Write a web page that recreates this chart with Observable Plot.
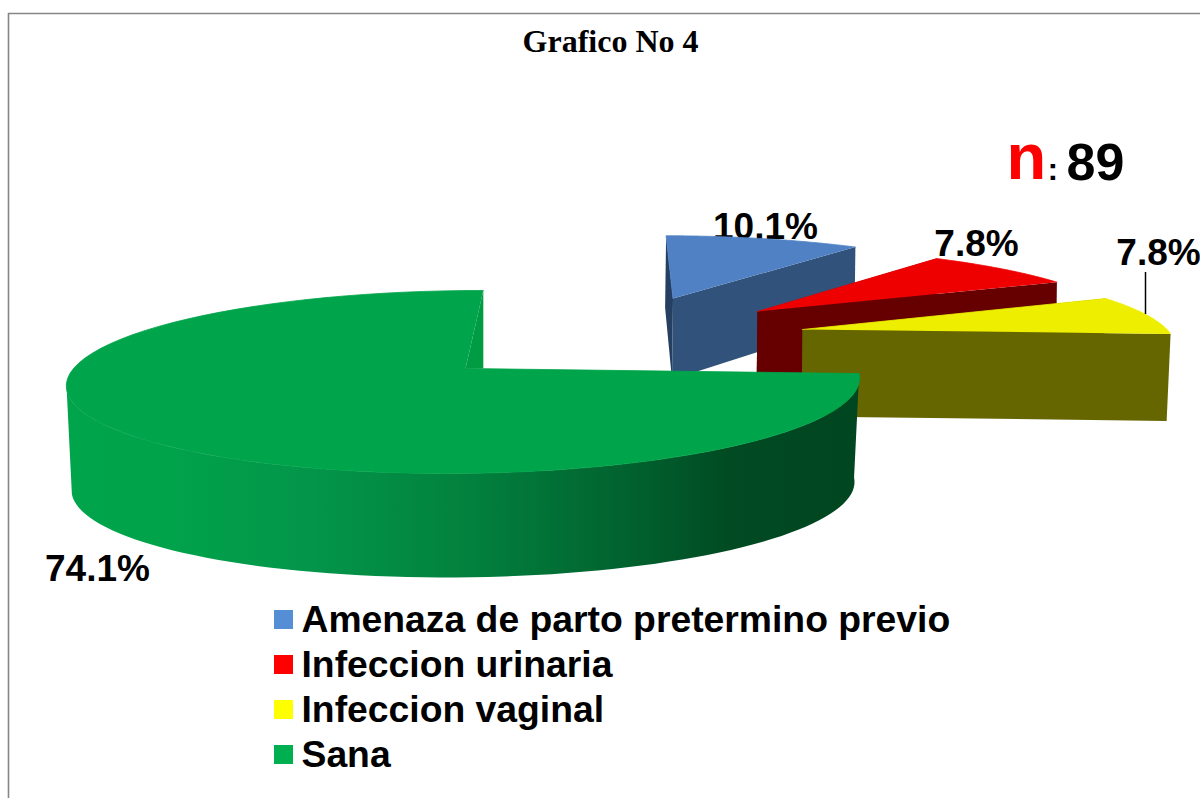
<!DOCTYPE html>
<html>
<head>
<meta charset="utf-8">
<script src="https://cdn.jsdelivr.net/npm/d3@7"></script>
<script src="https://cdn.jsdelivr.net/npm/@observablehq/plot@0.6"></script>
<style>html,body{margin:0;padding:0;background:#fff;overflow:hidden}svg{display:block}</style>
</head>
<body>
<div id="chart"></div>
<script>
// DATA
const categories = ["Amenaza de parto pretermino previo", "Infeccion urinaria", "Infeccion vaginal", "Sana"];
const percents = [10.1, 7.8, 7.8, 74.1];
const sampleSize = 89;
const chartTitle = "Grafico No 4";

// STYLES
const topColors = ["#4F81C4", "#EE0000", "#EEEE00", "#00A44A"];
const sideColors = ["#31527A", "#660000", "#666600", "url(#greenSide)"];
const innerColors = ["#253F63", "#4A0000", "#4A4A00", "#009C44"];
const legendColors = ["#558ED5", "#FF0000", "#FFFF00", "#00B050"];
const SANS = "'Liberation Sans', Arial, sans-serif";
const SERIF = "'Liberation Serif', 'Times New Roman', serif";

// LAYOUT: perspective placement of each exploded slice
const persp = 0.1475;
const startDeg = 0.5;
const slicePlacement = [
  {cx: 672.5, cy: 298, A: 354, B: 72, S: -11, depth: 81, depthFar: -9, sx: 1, dx: -1},
  {cx: 757, cy: 311, A: 360, B: 74, S: -20, depth: 84, depthFar: -9, sx: 1, dx: -1},
  {cx: 802, cy: 329, A: 364.5, B: 78, S: -20, depth: 87, depthFar: 0, sx: 0.992, dx: -1},
  {cx: 465, cy: 368, A: 392, B: 89.5, S: 17, depth: 104, depthFar: 0, sx: 0.987, dx: 0}
];

const total = d3.sum(percents);
const cumulative = [0, ...d3.cumsum(percents)];
const rad = d => d * Math.PI / 180;

function project(p, deg, r, lower) {
  const u = r * Math.sin(rad(deg)), v = r * Math.cos(rad(deg)), w = 1 + persp * v;
  const X = (p.A * u + p.S * v) / w, Y = -p.B * v / w;
  return lower
    ? {x: p.cx + p.dx + p.sx * X, y: p.cy + Y + p.depth + p.depthFar * v}
    : {x: p.cx + X, y: p.cy + Y};
}
const arc = (p, a0, a1, lower) =>
  d3.range(0, 81).map(i => project(p, a0 + (a1 - a0) * i / 80, 1, lower));

const polys = [];
percents.forEach((_, i) => {
  const p = slicePlacement[i];
  const a0 = startDeg + 360 * cumulative[i] / total;
  const a1 = startDeg + 360 * cumulative[i + 1] / total;
  const apex = project(p, 0, 0, false), apexLow = project(p, 0, 0, true);
  if (i < 3) {
    polys.push({fill: innerColors[i], pts: [project(p, a0, 1, false), apex, apexLow, project(p, a0, 1, true)]});
    polys.push({fill: sideColors[i], pts: [apex, project(p, a1, 1, false), project(p, a1, 1, true), apexLow]});
    polys.push({fill: topColors[i], seal: true, pts: [apex, ...arc(p, a0, a1, false)]});
  } else {
    const frontEnd = a0 + 163;
    polys.push({fill: sideColors[i], pts: [...arc(p, a0, frontEnd, false), ...arc(p, a0, frontEnd, true).reverse()]});
    polys.push({fill: topColors[i], seal: true, pts: [apex, ...arc(p, a0, a1, false)]});
    const tip = project(p, a1, 1, false);
    polys.push({fill: innerColors[i], pts: [apex, tip, {x: tip.x, y: apex.y}]});
  }
});

const labelPlacement = [
  {x: 765, y: 238}, {x: 976, y: 255}, {x: 1158, y: 264}, {x: 97, y: 580}
];
const pctLabels = percents.map((v, i) => ({...labelPlacement[i], t: v.toFixed(1) + "%"}));
const legendTop = 610, legendStep = 45, swatch = 19, legendX = 274;
const legendRows = categories.map((c, i) => ({c, fill: legendColors[i], y: legendTop + i * legendStep}));

const sliceMark = q => Plot.line(q.pts, {x: "x", y: "y", fill: q.fill,
  stroke: q.seal ? q.fill : "none", strokeWidth: 0.8});
const textOpts = {fontFamily: SANS, fontWeight: "bold", fill: "#000", lineAnchor: "bottom"};

const chart = Plot.plot({
  width: 1200, height: 798, margin: 0,
  x: {domain: [0, 1200], range: [0, 1200], axis: null},
  y: {domain: [0, 798], range: [0, 798], axis: null},
  style: {background: "#fff"},
  marks: [
    Plot.ruleY([13], {x1: 8, x2: 1200, stroke: "#868686", strokeWidth: 1.6}),
    Plot.ruleX([8], {y1: 13, y2: 798, stroke: "#868686", strokeWidth: 1.6}),
    Plot.text([chartTitle], {x: 610, y: 51, text: d => d, fontFamily: SERIF, fontWeight: "bold", fontSize: 32, fill: "#000", lineAnchor: "bottom"}),
    Plot.text(pctLabels.slice(0, 1), {x: "x", y: "y", text: "t", fontSize: 37, ...textOpts}),
    ...polys.map(sliceMark),
    Plot.ruleX([1145], {y1: 272, y2: 314, stroke: "#000", strokeWidth: 1.5}),
    Plot.text(pctLabels.slice(1), {x: "x", y: "y", text: "t", fontSize: 37, ...textOpts}),
    Plot.text(["n"], {x: 1006, y: 178, text: d => d, fontSize: 65, textAnchor: "start", ...textOpts, fill: "#FF0000"}),
    Plot.text([":"], {x: 1047, y: 179, text: d => d, fontSize: 32, textAnchor: "start", ...textOpts}),
    Plot.text([sampleSize], {x: 1066, y: 179, text: d => String(d), fontSize: 52, textAnchor: "start", ...textOpts}),
    Plot.rect(legendRows, {x1: legendX, x2: legendX + swatch, y1: "y", y2: d => d.y + swatch, fill: "fill"}),
    Plot.text(legendRows, {x: 301, y: d => d.y + 21.5, text: "c", fontSize: 37.3, textAnchor: "start", ...textOpts})
  ]
});

const defs = d3.create("svg:defs");
const grad = defs.append("linearGradient").attr("id", "greenSide")
  .attr("gradientUnits", "userSpaceOnUse").attr("x1", 67).attr("x2", 858).attr("y1", 0).attr("y2", 0);
[[0, "#00A44A"], [0.12, "#00A34A"], [0.3, "#03964A"], [0.5, "#02823E"], [0.72, "#01602E"], [0.84, "#014A22"], [1, "#004620"]]
  .forEach(([o, c]) => grad.append("stop").attr("offset", o).attr("stop-color", c));
chart.insertBefore(defs.node(), chart.firstChild);
document.getElementById("chart").appendChild(chart);
</script>
</body>
</html>
